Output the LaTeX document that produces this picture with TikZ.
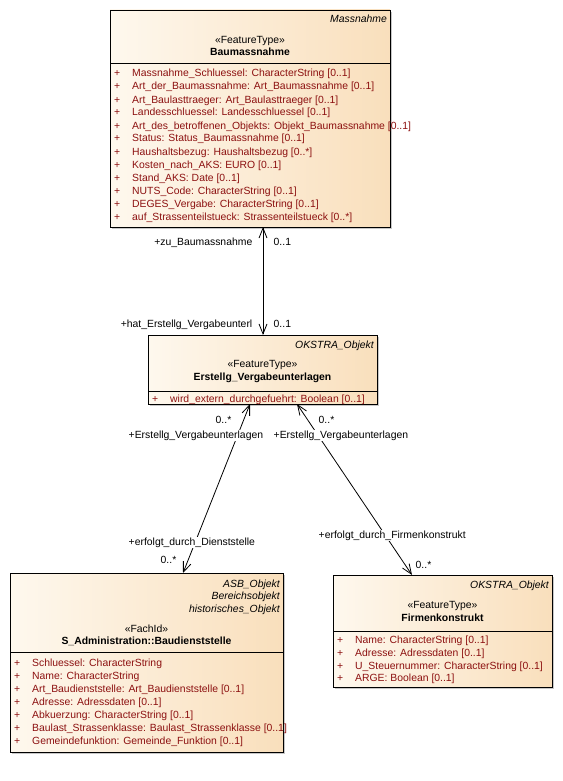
\documentclass[tikz,border=0pt]{standalone}
\usepackage{fontspec}
\setmainfont{Liberation Sans}
\usepackage{tikz}
\usetikzlibrary{arrows.meta, shadows}

\definecolor{boxleft}{HTML}{FEF8EE}
\definecolor{boxright}{HTML}{F9DFBC}
\definecolor{attrred}{HTML}{8C1010}

\newcommand{\umlfont}{\fontsize{10.4}{13}\selectfont}
\newcommand{\attrline}[1]{\makebox[18pt][l]{+}#1}

\begin{document}
\begin{tikzpicture}[x=1pt, y=-1pt, >={Straight Barb[length=10pt, width=8pt]}, font=\umlfont,
    classbox/.style={draw, line width=0.8pt, left color=boxleft, right color=boxright,
        inner sep=0pt, outer sep=0pt, anchor=north west,
        drop shadow={shadow xshift=2pt, shadow yshift=-2pt, fill=black!22, opacity=1}},
    hdr/.style={inner sep=0pt, anchor=base},
    clsname/.style={hdr, font=\umlfont\bfseries},
    parent/.style={inner sep=0pt, anchor=base east, font=\umlfont\itshape},
    attr/.style={inner sep=0pt, anchor=base west, text=attrred},
    role/.style={inner sep=0.5pt, fill=white, anchor=base west},
    assoc/.style={<->, line width=0.8pt}]
    \useasboundingbox (0,0) rectangle (562,781);

    % Baumassnahme
    \node[classbox, minimum width=280pt, minimum height=217pt] (bau) at (110,10) {};
    \draw[line width=0.8pt] ([yshift=-53pt]bau.north west) -- ([yshift=-53pt]bau.north east);
    \node[parent] (bau-par) at (387,23) {Massnahme};
    \node[hdr] (bau-st) at (250,43.5) {«FeatureType»};
    \node[clsname] (bau-nm) at (250,56) {Baumassnahme};
    \foreach \t [count=\i] in {{Massnahme\_Schluessel: CharacterString [0..1]},
        {Art\_der\_Baumassnahme: Art\_Baumassnahme [0..1]},
        {Art\_Baulasttraeger: Art\_Baulasttraeger [0..1]},
        {Landesschluessel: Landesschluessel [0..1]},
        {Art\_des\_betroffenen\_Objekts: Objekt\_Baumassnahme [0..1]},
        {Status: Status\_Baumassnahme [0..1]},
        {Haushaltsbezug: Haushaltsbezug [0..*]},
        {Kosten\_nach\_AKS: EURO [0..1]},
        {Stand\_AKS: Date [0..1]},
        {NUTS\_Code: CharacterString [0..1]},
        {DEGES\_Vergabe: CharacterString [0..1]},
        {auf\_Strassenteilstueck: Strassenteilstueck [0..*]}}
        \node[attr] (bau-a\i) at (114,{64+13*\i}) {\attrline{\t}};

    % Erstellg_Vergabeunterlagen
    \node[classbox, minimum width=229pt, minimum height=69pt] (erst) at (148,335) {};
    \draw[line width=0.8pt] ([yshift=-56pt]erst.north west) -- ([yshift=-56pt]erst.north east);
    \node[parent] (erst-par) at (374,348.5) {OKSTRA\_Objekt};
    \node[hdr] (erst-st) at (262.5,367.5) {«FeatureType»};
    \node[clsname] (erst-nm) at (262.5,380.5) {Erstellg\_Vergabeunterlagen};
    \node[attr] (erst-a1) at (152,402) {\attrline{wird\_extern\_durchgefuehrt: Boolean [0..1]}};

    % S_Administration::Baudienststelle
    \node[classbox, minimum width=273pt, minimum height=179pt] (dst) at (10,573) {};
    \draw[line width=0.8pt] ([yshift=-79pt]dst.north west) -- ([yshift=-79pt]dst.north east);
    \node[parent] (dst-par1) at (280,587) {ASB\_Objekt};
    \node[parent] (dst-par2) at (280,599.5) {Bereichsobjekt};
    \node[parent] (dst-par3) at (280,612) {historisches\_Objekt};
    \node[hdr] (dst-st) at (146.5,632) {«FachId»};
    \node[clsname] (dst-nm) at (146.5,644.5) {S\_Administration::Baudienststelle};
    \foreach \t [count=\i] in {{Schluessel: CharacterString},
        {Name: CharacterString},
        {Art\_Baudienststelle: Art\_Baudienststelle [0..1]},
        {Adresse: Adressdaten [0..1]},
        {Abkuerzung: CharacterString [0..1]},
        {Baulast\_Strassenklasse: Baulast\_Strassenklasse [0..1]},
        {Gemeindefunktion: Gemeinde\_Funktion [0..1]}}
        \node[attr] (dst-a\i) at (14,{653+13*\i}) {\attrline{\t}};

    % Firmenkonstrukt
    \node[classbox, minimum width=219pt, minimum height=112pt] (firm) at (333,575) {};
    \draw[line width=0.8pt] ([yshift=-56pt]firm.north west) -- ([yshift=-56pt]firm.north east);
    \node[parent] (firm-par) at (549,588.5) {OKSTRA\_Objekt};
    \node[hdr] (firm-st) at (442.5,608) {«FeatureType»};
    \node[clsname] (firm-nm) at (442.5,621) {Firmenkonstrukt};
    \foreach \t [count=\i] in {{Name: CharacterString [0..1]},
        {Adresse: Adressdaten [0..1]},
        {U\_Steuernummer: CharacterString [0..1]},
        {ARGE: Boolean [0..1]}}
        \node[attr] (firm-a\i) at (337,{630.7+12.8*\i}) {\attrline{\t}};

    % associations
    \coordinate (xtop) at (263,0);
    \coordinate (xl1) at (250,0);
    \coordinate (xl2) at (183,0);
    \coordinate (xr1) at (297,0);
    \coordinate (xr2) at (412,0);
    \draw[assoc] (bau.south -| xtop) -- (erst.north -| xtop);
    \draw[assoc] (erst.south -| xl1) -- (dst.north -| xl2);
    \draw[assoc] (erst.south -| xr1) -- (firm.north -| xr2);

    \node[role, anchor=base east] (r-zu) at (253,245.5) {+zu\_Baumassnahme};
    \node[role] (m-zu) at (273,245.5) {0..1};
    \node[role, anchor=base east] (r-hat) at (253,327) {+hat\_Erstellg\_Vergabeunterl};
    \node[role] (m-hat) at (273,327) {0..1};
    \node[role] (m-el) at (215,423) {0..*};
    \node[role] (r-el) at (128,438) {+Erstellg\_Vergabeunterlagen};
    \node[role] (m-er) at (318,423) {0..*};
    \node[role] (r-er) at (273,438) {+Erstellg\_Vergabeunterlagen};
    \node[role] (r-dst) at (128,545) {+erfolgt\_durch\_Dienststelle};
    \node[role] (m-dst) at (160,563.5) {0..*};
    \node[role] (r-firm) at (318,538) {+erfolgt\_durch\_Firmenkonstrukt};
    \node[role] (m-firm) at (415,568) {0..*};
\end{tikzpicture}
\end{document}
